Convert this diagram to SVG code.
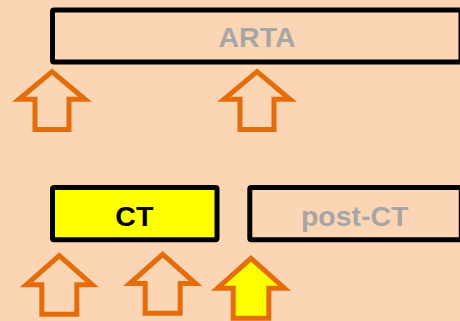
<svg xmlns="http://www.w3.org/2000/svg" width="460" height="321" viewBox="0 0 460 321">
<style>
.box{stroke:#000;stroke-width:5;stroke-linejoin:round}
.arr{fill:none;stroke:#e46c0a;stroke-width:5;stroke-linejoin:miter;stroke-miterlimit:8}
.lbl{font-family:"Liberation Sans",Arial,sans-serif;font-weight:bold;font-size:28.5px;text-anchor:middle}
.grey{fill:#a6a6a6}
</style>
<rect x="0" y="0" width="460" height="321" fill="#fcd5b4"/>
<g id="arta">
<rect class="box" x="52.5" y="10" width="408.5" height="52" fill="none" rx="1.5"/>
<text class="lbl grey" x="257" y="47">ARTA</text>
</g>
<g id="ct">
<rect class="box" x="52.5" y="187.5" width="164.5" height="52.3" fill="#ffff00" rx="1.5"/>
<text class="lbl" x="134.3" y="225.7" fill="#000">CT</text>
</g>
<g id="post-ct">
<rect class="box" x="249.8" y="187.5" width="211.5" height="52.3" fill="none" rx="1.5"/>
<text class="lbl grey" x="354.7" y="225.7">post-CT</text>
</g>
<g id="arrows">
<path class="arr" transform="translate(52,68.3)" d="M0,3.4 L33,31 L17,31 L17,61.2 L-17,61.2 L-17,31 L-33,31 Z"/>
<path class="arr" transform="translate(257,68.3)" d="M0,3.4 L33,31 L17,31 L17,61.2 L-17,61.2 L-17,31 L-33,31 Z"/>
<path class="arr" transform="translate(59.3,252.3)" d="M0,3.4 L33,32.5 L17.5,32.5 L17.5,61.9 L-17.5,61.9 L-17.5,32.5 L-33,32.5 Z"/>
<path class="arr" transform="translate(162.7,251)" d="M0,3.4 L33,32.5 L17.5,32.5 L17.5,62.2 L-17.5,62.2 L-17.5,32.5 L-33,32.5 Z"/>
<path class="arr" transform="translate(251,255)" fill="#ffff00" style="fill:#ffff00" d="M0,3.4 L33.5,33.2 L17.8,33.2 L17.8,63.2 L-17.8,63.2 L-17.8,33.2 L-33.5,33.2 Z"/>
</g>
</svg>
